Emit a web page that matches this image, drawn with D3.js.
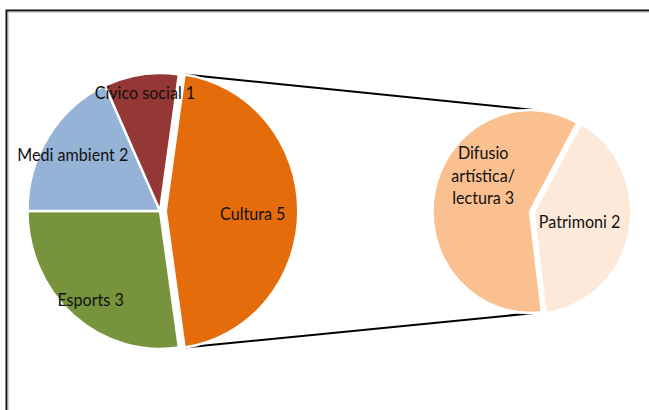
<!DOCTYPE html>
<html>
<head>
<meta charset="utf-8">
<script src="https://cdn.jsdelivr.net/npm/d3@7"></script>
<style>
  body { margin: 0; background: #fff; }
  svg { display: block; }
  text { font-family: Lato, "Open Sans", sans-serif; font-size: 16.8px; fill: #111; }
</style>
</head>
<body>
<script>
// main pie data (Cultura is split out in the second pie)
var mainNames = ["Cultura", "Esports", "Medi ambient", "Cívico social"];
var mainValues = [5, 3, 2, 1];
var mainColors = ["#e46c0a", "#77933c", "#95b3d7", "#953735"];

// secondary pie data (breakdown of Cultura)
var subNames = ["Patrimoni", "Difusio artística/ lectura"];
var subValues = [2, 3];
var subColors = ["#fde9d9", "#fac090"];

// window size
var width = 649,
    height = 410;

var svg = d3.select("body")
    .append("svg")
    .attr("width", width)
    .attr("height", height);

// frame of the chart area (runs off the right and bottom)
svg.append("rect")
    .attr("x", 6.5).attr("y", 10.5)
    .attr("width", 700).attr("height", 500)
    .attr("fill", "none")
    .attr("stroke", "#111")
    .attr("stroke-width", 2);
svg.append("rect")
    .attr("x", 8).attr("y", 12)
    .attr("width", 700).attr("height", 500)
    .attr("fill", "none")
    .attr("stroke", "#aaa")
    .attr("stroke-width", 1);

// the whole picture is slightly squeezed horizontally
var sx = 0.96;
var chart = svg.append("g")
    .attr("transform", "scale(" + sx + ",1)");

var deg = Math.PI / 180;

// main pie: the "other" slice is centred on the right side
var mainTotal = d3.sum(mainValues);
var mainStart = Math.PI / 2 - (mainValues[0] / mainTotal) * Math.PI;
var mainPie = d3.pie().sort(null)
    .startAngle(mainStart)
    .endAngle(mainStart + 2 * Math.PI);
var mainArcs = mainPie(mainValues);

var mainR = 138,
    mainCx = 160 / sx,
    mainCy = 211,
    explode = 6;

// secondary pie
var subR = 101.5,
    subCx = 530 / sx,
    subCy = 211.5,
    subExplode = 4;
var subStart = 29 * deg;
var subPie = d3.pie().sort(null)
    .startAngle(subStart)
    .endAngle(subStart + 2 * Math.PI);
var subArcs = subPie(subValues);

function polar(angle, r) {
    return [Math.sin(angle) * r, -Math.cos(angle) * r];
}

// connector lines from the Cultura slice to the second pie
var cultura = mainArcs[0];
var a1 = polar(cultura.startAngle, mainR),
    a2 = polar(cultura.endAngle, mainR),
    b1 = polar(5 * deg, subR),
    b2 = polar(175 * deg, subR);
var lines = [
    [[mainCx + explode + a1[0], mainCy + a1[1]], [subCx + b1[0], subCy + b1[1]]],
    [[mainCx + explode + a2[0], mainCy + a2[1]], [subCx + b2[0], subCy + b2[1]]]
];
chart.selectAll("line.connector")
    .data(lines)
    .enter()
    .append("line")
    .attr("class", "connector")
    .attr("x1", function (d) { return d[0][0]; })
    .attr("y1", function (d) { return d[0][1]; })
    .attr("x2", function (d) { return d[1][0]; })
    .attr("y2", function (d) { return d[1][1]; })
    .attr("stroke", "#000")
    .attr("stroke-width", 2);

var mainArc = d3.arc().innerRadius(0).outerRadius(mainR);
var mainLabelArc = d3.arc().innerRadius(mainR * 0.6).outerRadius(mainR);
var subArc = d3.arc().innerRadius(0).outerRadius(subR);
var subLabelArc = d3.arc().innerRadius(0).outerRadius(subR);

// offset of an exploded slice along its bisector
function shift(d, amount) {
    var mid = (d.startAngle + d.endAngle) / 2;
    return polar(mid, amount);
}

var mainG = chart.append("g")
    .attr("transform", "translate(" + mainCx + "," + mainCy + ")");

mainG.selectAll("path")
    .data(mainArcs)
    .enter()
    .append("path")
    .attr("transform", function (d, i) {
        var o = i === 0 ? shift(d, explode) : [0, 0];
        return "translate(" + o[0] + "," + o[1] + ")";
    })
    .attr("d", mainArc)
    .attr("fill", function (d, i) { return mainColors[i]; })
    .attr("stroke", "#fff")
    .attr("stroke-width", 2.5);

var subG = chart.append("g")
    .attr("transform", "translate(" + subCx + "," + subCy + ")");

subG.selectAll("path")
    .data(subArcs)
    .enter()
    .append("path")
    .attr("transform", function (d, i) {
        var o = i === 0 ? shift(d, subExplode) : [0, 0];
        return "translate(" + o[0] + "," + o[1] + ")";
    })
    .attr("d", subArc)
    .attr("fill", function (d, i) { return subColors[i]; })
    .attr("stroke", "#fff")
    .attr("stroke-width", 2.5);

// label nudges (pixels) to match where Excel put them
var mainNudge = [[-19, 3], [0, 6], [2, 4], [0, -9]];
var subNudge = [[-2, 0], [1, -26]];

mainG.selectAll("text")
    .data(mainArcs)
    .enter()
    .append("text")
    .attr("text-anchor", "middle")
    .attr("dy", "0.35em")
    .attr("transform", function (d, i) {
        var c = mainLabelArc.centroid(d);
        var o = i === 0 ? shift(d, explode) : [0, 0];
        return "translate(" + (c[0] + o[0] + mainNudge[i][0] / sx) + "," +
            (c[1] + o[1] + mainNudge[i][1]) + ")";
    })
    .text(function (d, i) { return mainNames[i] + " " + mainValues[i]; });

subG.selectAll("text")
    .data(subArcs)
    .enter()
    .append("text")
    .attr("text-anchor", "middle")
    .attr("transform", function (d, i) {
        var c = subLabelArc.centroid(d);
        var o = i === 0 ? shift(d, subExplode) : [0, 0];
        return "translate(" + (c[0] + o[0] + subNudge[i][0] / sx) + "," +
            (c[1] + o[1] + subNudge[i][1]) + ")";
    })
    .each(function (d, i) {
        // wrap the long name on spaces, value goes on the last line
        var words = (subNames[i] + " " + subValues[i]).split(" ");
        var rows = i === 1 ? [words[0], words[1], words[2] + " " + words[3]] : [words.join(" ")];
        var t = d3.select(this);
        rows.forEach(function (r, k) {
            t.append("tspan")
                .attr("x", 0)
                .attr("y", (k - (rows.length - 1) / 2) * 22.5)
                .attr("dy", "0.35em")
                .text(r);
        });
    });
</script>
</body>
</html>
